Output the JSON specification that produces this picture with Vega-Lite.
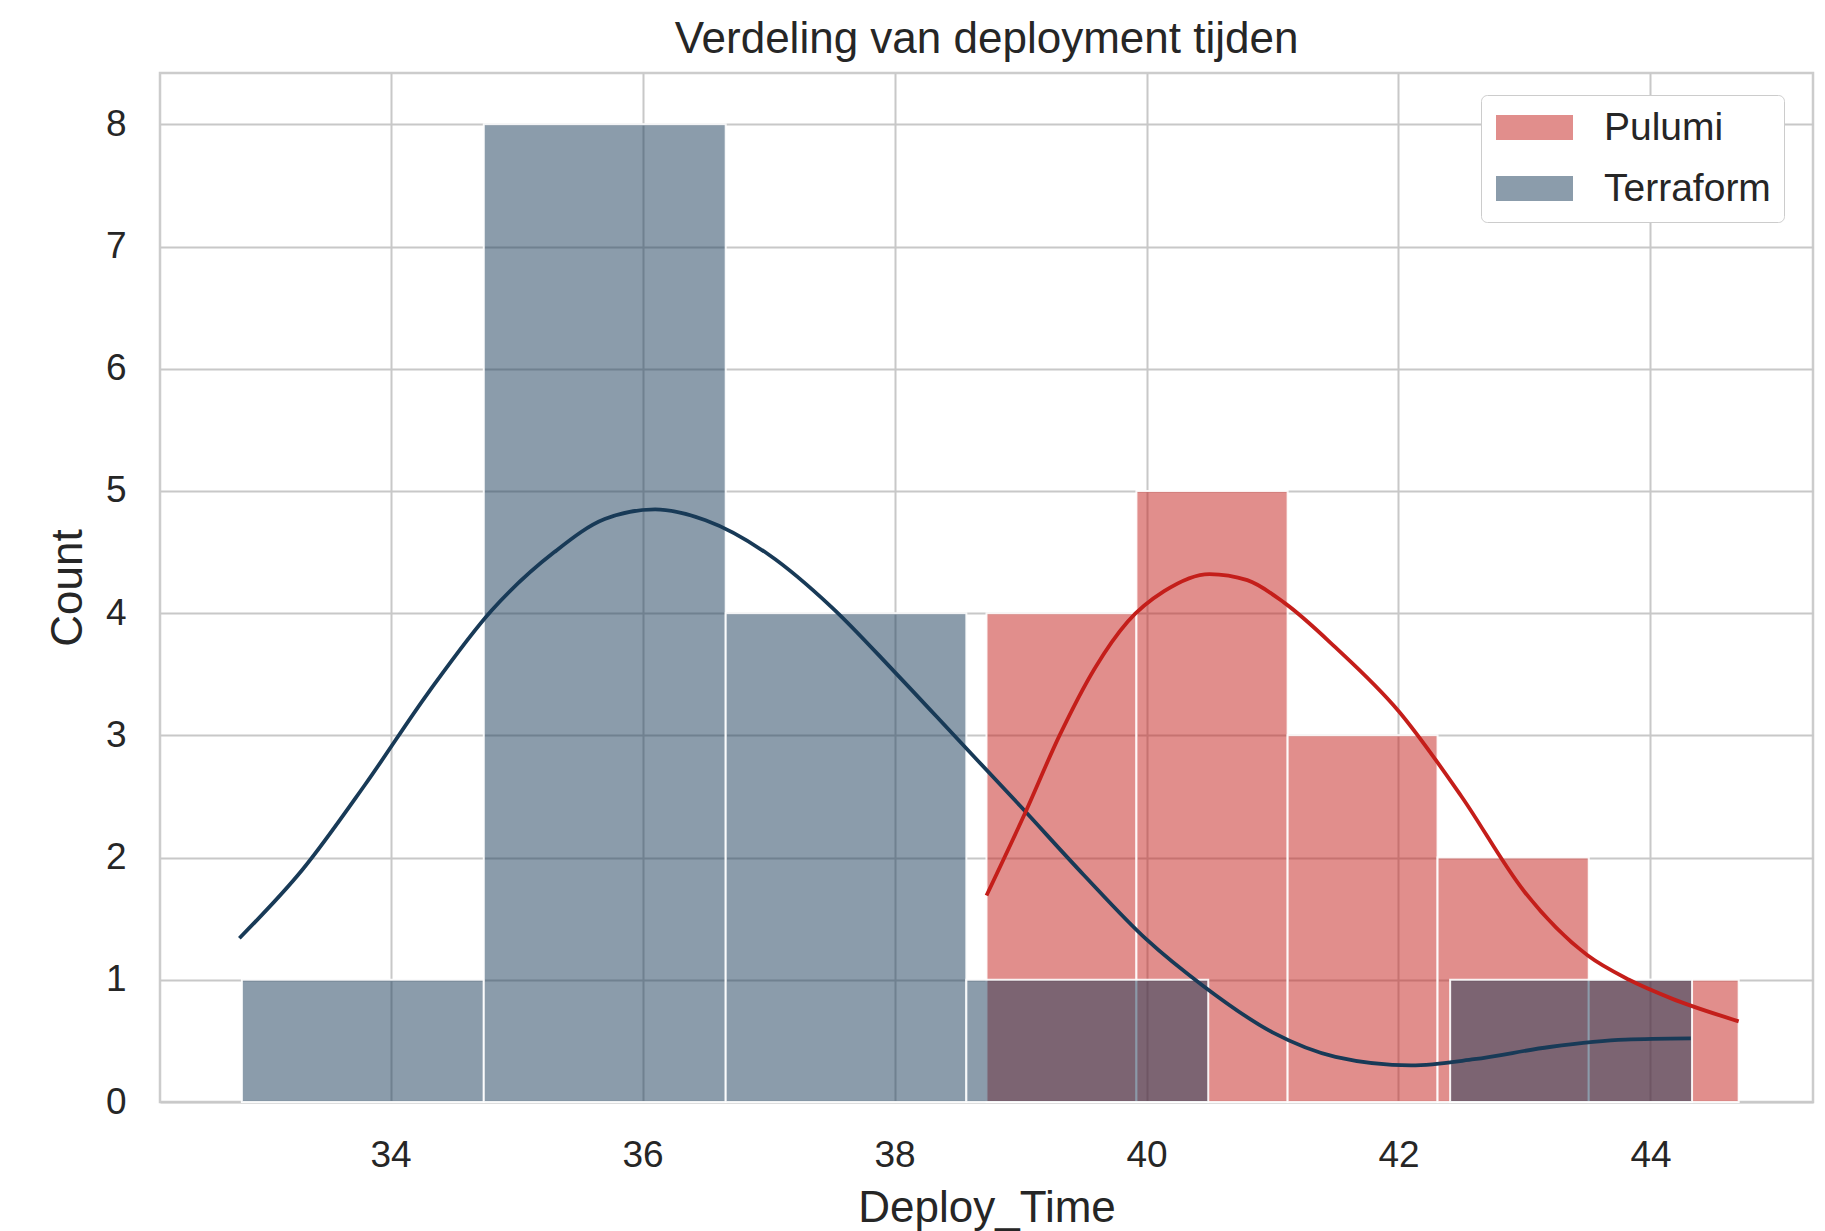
{
  "$schema": "https://vega.github.io/schema/vega-lite/v6.json",
  "width": 1653,
  "height": 1029,
  "autosize": {"type": "none"},
  "padding": {"left": 160, "top": 73, "right": 12, "bottom": 129},
  "background": "white",
  "title": {
    "text": "Verdeling van deployment tijden",
    "fontSize": 44,
    "font": "Liberation Sans",
    "fontWeight": "normal",
    "color": "#262626",
    "baseline": "alphabetic",
    "offset": -24,
    "anchor": "middle",
    "frame": "group"
  },
  "datasets": {
    "bars": [
      {"Tool": "Pulumi", "bin_start": 38.73, "bin_end": 39.92, "Count": 4},
      {"Tool": "Pulumi", "bin_start": 39.92, "bin_end": 41.12, "Count": 5},
      {"Tool": "Pulumi", "bin_start": 41.12, "bin_end": 42.31, "Count": 3},
      {"Tool": "Pulumi", "bin_start": 42.31, "bin_end": 43.51, "Count": 2},
      {"Tool": "Pulumi", "bin_start": 43.51, "bin_end": 44.70, "Count": 1},
      {"Tool": "Terraform", "bin_start": 32.82, "bin_end": 34.74, "Count": 1},
      {"Tool": "Terraform", "bin_start": 34.74, "bin_end": 36.66, "Count": 8},
      {"Tool": "Terraform", "bin_start": 36.66, "bin_end": 38.57, "Count": 4},
      {"Tool": "Terraform", "bin_start": 38.57, "bin_end": 40.49, "Count": 1},
      {"Tool": "Terraform", "bin_start": 42.41, "bin_end": 44.33, "Count": 1}
    ],
    "kde": [
      {"Tool": "Terraform", "Deploy_Time": 32.80, "Count": 1.34},
      {"Tool": "Terraform", "Deploy_Time": 33.3, "Count": 1.9},
      {"Tool": "Terraform", "Deploy_Time": 33.8, "Count": 2.6},
      {"Tool": "Terraform", "Deploy_Time": 34.3, "Count": 3.35},
      {"Tool": "Terraform", "Deploy_Time": 34.8, "Count": 4.02},
      {"Tool": "Terraform", "Deploy_Time": 35.3, "Count": 4.5},
      {"Tool": "Terraform", "Deploy_Time": 35.7, "Count": 4.77},
      {"Tool": "Terraform", "Deploy_Time": 36.1, "Count": 4.85},
      {"Tool": "Terraform", "Deploy_Time": 36.5, "Count": 4.76},
      {"Tool": "Terraform", "Deploy_Time": 37.0, "Count": 4.48},
      {"Tool": "Terraform", "Deploy_Time": 37.5, "Count": 4.05},
      {"Tool": "Terraform", "Deploy_Time": 38.0, "Count": 3.52},
      {"Tool": "Terraform", "Deploy_Time": 38.5, "Count": 2.97},
      {"Tool": "Terraform", "Deploy_Time": 39.0, "Count": 2.42},
      {"Tool": "Terraform", "Deploy_Time": 39.5, "Count": 1.86},
      {"Tool": "Terraform", "Deploy_Time": 40.0, "Count": 1.33},
      {"Tool": "Terraform", "Deploy_Time": 40.45, "Count": 0.95},
      {"Tool": "Terraform", "Deploy_Time": 41.0, "Count": 0.57},
      {"Tool": "Terraform", "Deploy_Time": 41.5, "Count": 0.37},
      {"Tool": "Terraform", "Deploy_Time": 42.1, "Count": 0.30},
      {"Tool": "Terraform", "Deploy_Time": 42.6, "Count": 0.35},
      {"Tool": "Terraform", "Deploy_Time": 43.2, "Count": 0.45},
      {"Tool": "Terraform", "Deploy_Time": 43.8, "Count": 0.51},
      {"Tool": "Terraform", "Deploy_Time": 44.32, "Count": 0.52},
      {"Tool": "Pulumi", "Deploy_Time": 38.73, "Count": 1.69},
      {"Tool": "Pulumi", "Deploy_Time": 39.03, "Count": 2.35},
      {"Tool": "Pulumi", "Deploy_Time": 39.31, "Count": 3.0},
      {"Tool": "Pulumi", "Deploy_Time": 39.59, "Count": 3.55},
      {"Tool": "Pulumi", "Deploy_Time": 39.85, "Count": 3.93},
      {"Tool": "Pulumi", "Deploy_Time": 40.14, "Count": 4.18},
      {"Tool": "Pulumi", "Deploy_Time": 40.5, "Count": 4.32},
      {"Tool": "Pulumi", "Deploy_Time": 40.8, "Count": 4.27},
      {"Tool": "Pulumi", "Deploy_Time": 41.1, "Count": 4.08},
      {"Tool": "Pulumi", "Deploy_Time": 41.5, "Count": 3.72},
      {"Tool": "Pulumi", "Deploy_Time": 42.0, "Count": 3.2},
      {"Tool": "Pulumi", "Deploy_Time": 42.5, "Count": 2.5},
      {"Tool": "Pulumi", "Deploy_Time": 43.0, "Count": 1.72},
      {"Tool": "Pulumi", "Deploy_Time": 43.5, "Count": 1.2},
      {"Tool": "Pulumi", "Deploy_Time": 43.83, "Count": 1.0},
      {"Tool": "Pulumi", "Deploy_Time": 44.16, "Count": 0.85},
      {"Tool": "Pulumi", "Deploy_Time": 44.70, "Count": 0.66}
    ]
  },
  "layer": [
    {
      "data": {"name": "bars"},
      "mark": {"type": "bar", "fillOpacity": 0.5, "stroke": "white", "strokeOpacity": 0.9, "strokeWidth": 2},
      "encoding": {
        "x": {
          "field": "bin_start",
          "type": "quantitative",
          "scale": {"domain": [32.17, 45.29], "nice": false, "zero": false},
          "axis": {
            "title": "Deploy_Time",
            "values": [34, 36, 38, 40, 42, 44],
            "format": "d",
            "titleX": 826.5,
            "titleY": 119,
            "titleBaseline": "alphabetic",
            "titleAlign": "center"
          }
        },
        "x2": {"field": "bin_end"},
        "y": {
          "field": "Count",
          "type": "quantitative",
          "scale": {"domain": [0, 8.42], "nice": false},
          "axis": {
            "title": "Count",
            "values": [0, 1, 2, 3, 4, 5, 6, 7, 8],
            "format": "d",
            "titleAngle": 270,
            "titleX": -79,
            "titleY": 514.5,
            "titleBaseline": "alphabetic",
            "titleAlign": "center"
          }
        },
        "y2": {"datum": 0},
        "color": {
          "field": "Tool",
          "type": "nominal",
          "scale": {"domain": ["Pulumi", "Terraform"], "range": ["#c41e1a", "#183a57"]},
          "legend": {
            "title": null,
            "orient": "none",
            "legendX": 1321,
            "legendY": 22
          }
        }
      }
    },
    {
      "data": {"name": "kde"},
      "mark": {"type": "line", "interpolate": "monotone", "strokeWidth": 3.8},
      "encoding": {
        "x": {"field": "Deploy_Time", "type": "quantitative"},
        "y": {"field": "Count", "type": "quantitative"},
        "detail": {"field": "Tool", "type": "nominal"},
        "stroke": {
          "field": "Tool",
          "type": "nominal",
          "scale": {"domain": ["Pulumi", "Terraform"], "range": ["#c41e1a", "#183a57"]},
          "legend": null
        }
      }
    }
  ],
  "config": {
    "view": {"stroke": "#cccccc", "strokeWidth": 2.5},
    "axis": {
      "domain": false,
      "ticks": false,
      "tickSize": 0,
      "grid": true,
      "gridColor": "#c8c8c8",
      "gridWidth": 2,
      "labelFont": "Liberation Sans",
      "labelFontSize": 37,
      "labelColor": "#262626",
      "titleFont": "Liberation Sans",
      "titleFontSize": 44,
      "titleFontWeight": "normal",
      "titleColor": "#262626"
    },
    "axisX": {"labelPadding": 35},
    "axisY": {"labelPadding": 34},
    "legend": {
      "labelFont": "Liberation Sans",
      "labelFontSize": 39,
      "labelLimit": 400,
      "labelColor": "#262626",
      "symbolType": "M-3.08,-1 L3.08,-1 L3.08,1 L-3.08,1 Z",
      "symbolSize": 625,
      "symbolStrokeWidth": 0,
      "symbolOpacity": 0.5,
      "symbolOffset": 21,
      "labelOffset": 50,
      "rowPadding": 21,
      "padding": 13,
      "strokeColor": "#cccccc",
      "fillColor": "white",
      "cornerRadius": 6
    }
  }
}
